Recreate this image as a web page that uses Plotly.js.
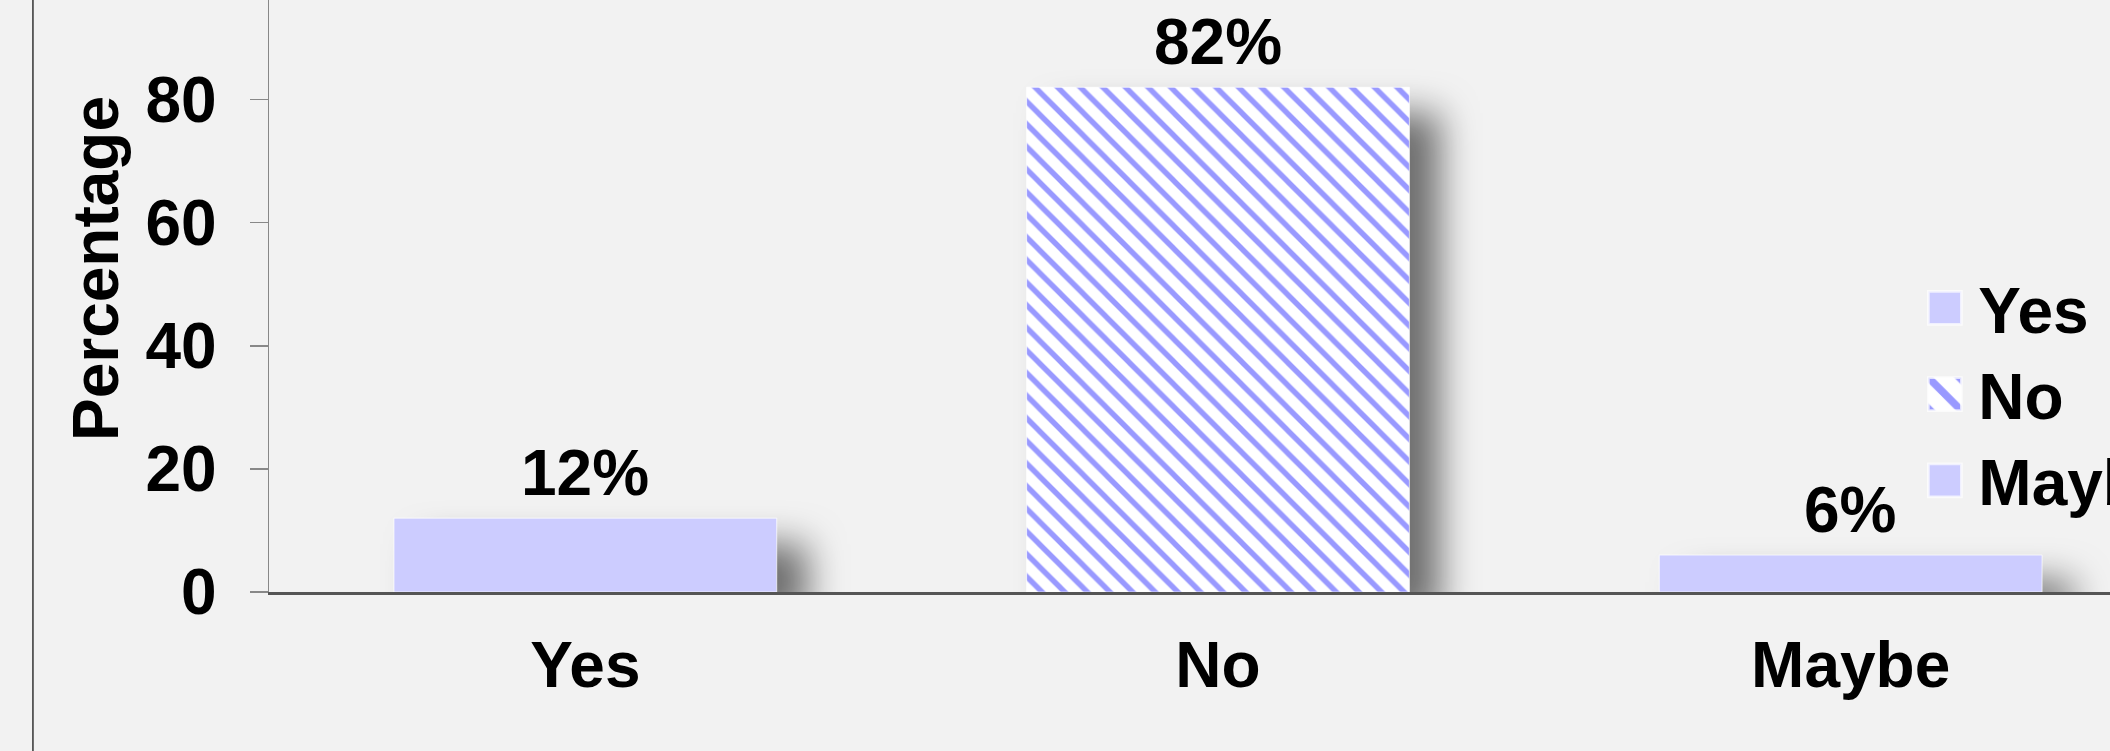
<!DOCTYPE html>
<html>
<head>
<meta charset="utf-8">
<script src="https://cdn.plot.ly/plotly-3.0.1.min.js"></script>
<style>
  html, body { margin: 0; padding: 0; background: #f2f2f2; overflow: hidden; }
  #chart { width: 2300px; height: 751px; }
  .barlayer .point path { filter: drop-shadow(30px 26px 18px rgba(0,0,0,0.55)); }
  .legend .legendpoints path { transform: translate(26.5px, 0px) scale(2.75); }
</style>
</head>
<body>
<div id="chart"></div>
<script>
const categories = ['Yes', 'No', 'Maybe'];
const values = [12, 82, 6];
const valueLabels = ['12%', '82%', '6%'];
const yTickVals = [0, 20, 40, 60, 80];
const yTitle = 'Percentage';

const font = { family: 'Liberation Sans, Arial, sans-serif', size: 64, weight: 'bold', color: '#000' };

const traces = categories.map((c, i) => ({
  type: 'bar',
  name: c,
  x: [c],
  y: [values[i]],
  width: 0.605,
  hoverinfo: 'none',
  marker: {
    color: i === 1 ? '#ffffff' : '#ccccff',
    line: { color: 'rgba(255,255,255,0.7)', width: 1 },
    pattern: i === 1
      ? { shape: '\\', fgcolor: '#9999ff', bgcolor: '#ffffff', size: 16, solidity: 0.34, fillmode: 'replace' }
      : { shape: '' }
  }
}));

const annotations = categories.map((c, i) => ({
  x: c, y: values[i], xref: 'x', yref: 'y',
  text: valueLabels[i], showarrow: false,
  yanchor: 'bottom', yshift: 7, font: font
}));

annotations.push({
  x: 0, y: 0.5, xref: 'paper', yref: 'paper',
  xanchor: 'center', yanchor: 'middle',
  xshift: -173, yshift: 27,
  text: yTitle, textangle: -90, showarrow: false, font: font
});

const layout = {
  width: 2300, height: 751,
  margin: { l: 269, r: 133, t: 0, b: 159, pad: 0 },
  paper_bgcolor: '#f2f2f2', plot_bgcolor: '#f2f2f2',
  font: font,
  barmode: 'overlay',
  showlegend: true,
  legend: {
    x: 0.869, xanchor: 'left', y: 0.334, yanchor: 'middle',
    bgcolor: 'rgba(0,0,0,0)', font: font, itemwidth: 50,
    tracegroupgap: 0
  },
  xaxis: {
    type: 'category', range: [-0.5, 2.5],
    showline: true, linecolor: '#555', linewidth: 2.5,
    ticks: '', showgrid: false, zeroline: false,
    tickfont: font, ticklabelstandoff: 16, automargin: false
  },
  yaxis: {
    range: [0, 96.18], tickvals: yTickVals,
    showline: true, linecolor: '#888', linewidth: 1.5,
    ticks: 'outside', ticklen: 18, tickcolor: '#888', tickwidth: 1.5,
    showgrid: false, zeroline: false,
    tickfont: font, ticklabelstandoff: 20, automargin: false
  },
  annotations: annotations,
  shapes: [{
    type: 'line', xref: 'paper', yref: 'paper',
    x0: (33 - 269) / 1897.5, x1: (33 - 269) / 1897.5, y0: -0.3, y1: 1.05,
    line: { color: '#333', width: 1.5 }
  }]
};

Plotly.newPlot('chart', traces, layout, { staticPlot: true, displayModeBar: false });
</script>
</body>
</html>
